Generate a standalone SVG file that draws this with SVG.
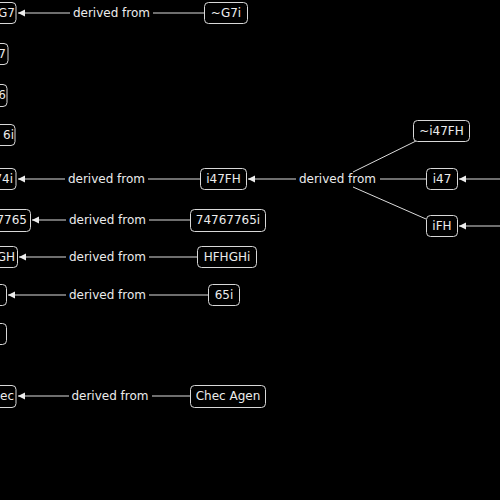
<svg xmlns="http://www.w3.org/2000/svg" width="500" height="500" viewBox="0 0 500 500">
<defs>
<marker id="ah" viewBox="0 0 10 10" refX="10" refY="5" markerWidth="7" markerHeight="8" markerUnits="userSpaceOnUse" orient="auto">
<path d="M0,0 L10,5 L0,10 z" fill="#ececec"/>
</marker>
<style>
.n rect{fill:#000;stroke:#d8d8d8;stroke-width:1}
.n text{fill:#ececec;font-family:"DejaVu Sans",Verdana,sans-serif;font-size:12px;text-anchor:middle}
.n text.e{text-anchor:end}
.c line{stroke:#dcdcdc;stroke-width:1;fill:none}
.c line.a{marker-end:url(#ah)}
.c text{fill:#ececec;font-family:"DejaVu Sans",Verdana,sans-serif;font-size:12px;text-anchor:middle}
</style>
</defs>
<rect width="500" height="500" fill="#000"/>
<g class="c">
<line x1="204" y1="13" x2="153" y2="13"/><line class="a" x1="70" y1="13" x2="18" y2="13"/><text x="111.5" y="17">derived from</text>
<line x1="200" y1="179" x2="148" y2="179"/><line class="a" x1="65" y1="179" x2="18" y2="179"/><text x="106.5" y="183">derived from</text>
<line x1="190" y1="220" x2="149" y2="220"/><line class="a" x1="66" y1="220" x2="32" y2="220"/><text x="107.5" y="224">derived from</text>
<line x1="197" y1="257" x2="149" y2="257"/><line class="a" x1="66" y1="257" x2="19" y2="257"/><text x="107.5" y="261">derived from</text>
<line x1="208" y1="295" x2="149" y2="295"/><line class="a" x1="66" y1="295" x2="8" y2="295"/><text x="107.5" y="299">derived from</text>
<line x1="190" y1="396" x2="152" y2="396"/><line class="a" x1="69" y1="396" x2="18" y2="396"/><text x="110" y="400">derived from</text>
<line x1="426" y1="179" x2="380" y2="179"/><line x1="416" y1="141" x2="353" y2="172"/><line x1="426" y1="219" x2="353" y2="187"/><line class="a" x1="296" y1="179" x2="248" y2="179"/><text x="337.5" y="183">derived from</text>
<line class="a" x1="500" y1="179" x2="459" y2="179"/>
<line class="a" x1="500" y1="226" x2="459" y2="226"/>
</g>
<g id="n1" class="n"><rect x="-40" y="2.5" width="56" height="21" rx="4"/><text class="e" x="15" y="17">~G7</text></g>
<g id="n2" class="n"><rect x="-40" y="43.5" width="48" height="21" rx="4"/><text class="e" x="6" y="58">7</text></g>
<g id="n3" class="n"><rect x="-40" y="84.5" width="47" height="22" rx="4"/><text class="e" x="6" y="99">6</text></g>
<g id="n4" class="n"><rect x="-40" y="124.5" width="55" height="21" rx="4"/><text class="e" x="14" y="139">6i</text></g>
<g id="n5" class="n"><rect x="-40" y="168.5" width="56" height="21" rx="4"/><text class="e" x="13" y="183">74i</text></g>
<g id="n6" class="n"><rect x="-60" y="209.5" width="90.5" height="22" rx="4"/><text class="e" x="27" y="224">74767765</text></g>
<g id="n7" class="n"><rect x="-50" y="246.5" width="67.5" height="21" rx="4"/><text class="e" x="15" y="261">HFHGH</text></g>
<g id="n8" class="n"><rect x="-40" y="284.5" width="46.5" height="21" rx="4"/><text class="e" x="-2" y="299">65</text></g>
<g id="n9" class="n"><rect x="-40" y="323.5" width="46.5" height="21" rx="4"/><text class="e" x="-2" y="338">i</text></g>
<g id="n10" class="n"><rect x="-50" y="385.5" width="66" height="22" rx="4"/><text class="e" x="14" y="400">Chec</text></g>
<g id="n11" class="n"><rect x="204.5" y="2.5" width="43" height="21" rx="4"/><text x="226" y="17">~G7i</text></g>
<g id="n12" class="n"><rect x="200.5" y="168.5" width="46" height="21" rx="4"/><text x="223.5" y="183">i47FH</text></g>
<g id="n13" class="n"><rect x="190.5" y="209.5" width="75" height="22" rx="4"/><text x="228" y="224">74767765i</text></g>
<g id="n14" class="n"><rect x="197.5" y="246.5" width="59" height="21" rx="4"/><text x="227" y="261">HFHGHi</text></g>
<g id="n15" class="n"><rect x="208.5" y="284.5" width="31" height="21" rx="4"/><text x="224" y="299">65i</text></g>
<g id="n16" class="n"><rect x="190.5" y="385.5" width="75" height="22" rx="4"/><text x="228" y="400">Chec Agen</text></g>
<g id="n17" class="n"><rect x="413.5" y="120.5" width="56" height="21" rx="4"/><text x="441.5" y="135">~i47FH</text></g>
<g id="n18" class="n"><rect x="426.5" y="168.5" width="31" height="21" rx="4"/><text x="442" y="183">i47</text></g>
<g id="n19" class="n"><rect x="426.5" y="215.5" width="31" height="21" rx="4"/><text x="442" y="230">iFH</text></g>
</svg>
